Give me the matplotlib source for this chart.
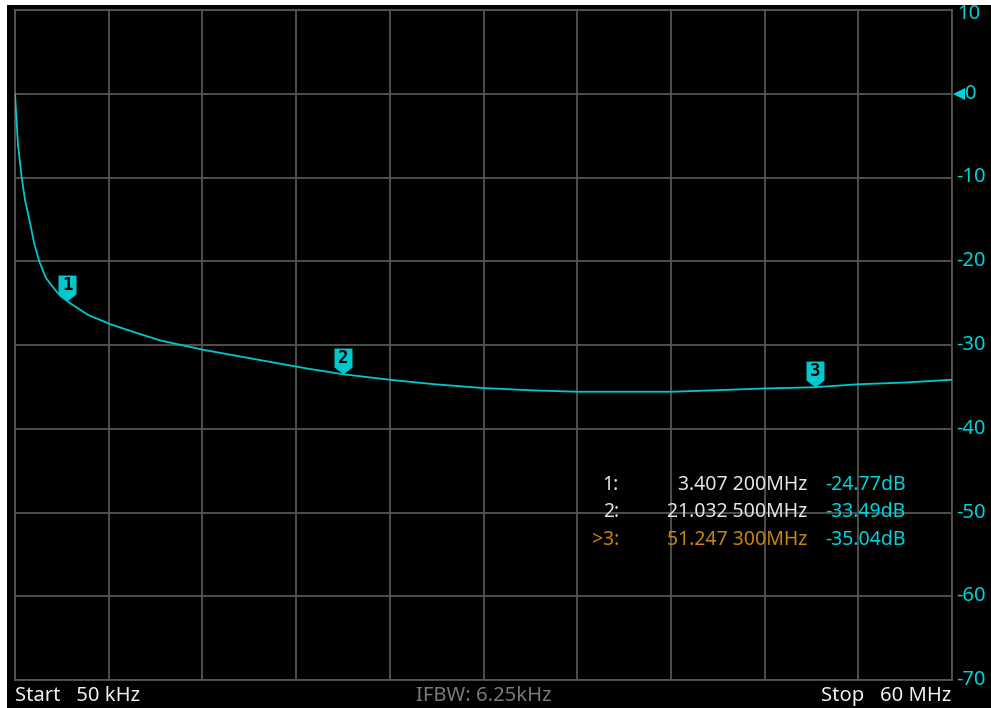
import numpy as np
import matplotlib.pyplot as plt
from matplotlib.path import Path
from matplotlib.patches import Rectangle

# Trace readings: frequency (MHz) and log magnitude (dB)
freq_mhz = [0.05, 0.16, 0.242, 0.48, 0.69, 1.01, 1.27, 1.60, 2.03, 2.61, 2.99,
            3.407, 3.57, 4.72, 6.13, 7.73, 9.33, 12.09, 15.73, 18.71, 21.0325,
            24.04, 26.8, 30.0, 33.2, 36.0, 39.6, 42.15, 45.8, 48.04, 51.2473,
            53.9, 57.1, 60.0]
mag_db = [0.0, -3.5, -6.1, -10.0, -12.7, -15.4, -17.8, -20.0, -22.0, -23.4, -24.2,
          -24.77, -25.0, -26.4, -27.5, -28.5, -29.45, -30.57, -31.8, -32.8, -33.49,
          -34.15, -34.67, -35.14, -35.42, -35.58, -35.58, -35.58, -35.34, -35.19,
          -35.04, -34.7, -34.47, -34.15]

# Markers
marker_ids = ['1', '2', '3']
marker_freq = [3.4072, 21.0325, 51.2473]
marker_db = [-24.77, -33.49, -35.04]
marker_freq_text = ['3.407 200MHz', '21.032 500MHz', '51.247 300MHz']
marker_db_text = ['-24.77dB', '-33.49dB', '-35.04dB']
active_marker = 2

y_ticks = [10, 0, -10, -20, -30, -40, -50, -60, -70]
f_start, f_stop = 0.05, 60.0

CYAN = '#00c8cc'
CYAN_TXT = '#00d4d8'
GRID = '#555555'
ORANGE = '#c8860c'
FONT = 'Noto Sans'

W, H = 991, 708
fig = plt.figure(figsize=(W / 100, H / 100), dpi=100, facecolor='white')
fig.patches.append(Rectangle((7 / W, 0), 1, 1 - 5 / H, transform=fig.transFigure,
                             facecolor='black', edgecolor='none', zorder=-10))

ax = fig.add_axes([15 / W, 28 / H, 937 / W, 670 / H])
ax.set_facecolor('black')
ax.set_xlim(f_start, f_stop)
ax.set_ylim(-70, 10)

ax.set_xticks(np.linspace(f_start, f_stop, 11))
ax.set_yticks(y_ticks)
ax.tick_params(length=0, labelbottom=False, labelleft=False)
ax.grid(True, color=GRID, linewidth=1.3)
for s in ax.spines.values():
    s.set_color(GRID)
    s.set_linewidth(1.3)

ax.plot(freq_mhz, mag_db, color=CYAN, linewidth=1.3, zorder=3)

# Marker flags: pentagon with the tip on the trace point
flag = Path([(0, 0), (9, 7), (9, 26), (-9, 26), (-9, 7), (0, 0)],
            [Path.MOVETO] + [Path.LINETO] * 4 + [Path.CLOSEPOLY])
for mid, mf, md in zip(marker_ids, marker_freq, marker_db):
    ax.plot(mf, md, marker=flag, markersize=37.4, color=CYAN, markeredgewidth=0,
            zorder=5)
    ax.annotate(mid, (mf, md), xytext=(0, 11.8), textcoords='offset points',
                ha='center', va='center', fontsize=12.5, fontweight='bold',
                family='DejaVu Sans Mono', color='black', zorder=6)

# Right-hand scale labels
ytr = ax.get_yaxis_transform()
for v in y_ticks:
    xoff = 1.014 if v == 0 else 1.005
    yy = v - 0.5 if v == 10 else v
    ax.text(xoff, yy, str(v), transform=ytr, ha='left', va='center',
            fontsize=14.5, family=FONT, color=CYAN_TXT, clip_on=False)
ax.plot([1.0075], [0], marker='<', markersize=8.5, color=CYAN_TXT,
        transform=ytr, clip_on=False, markeredgewidth=0)

# Marker readout table
rows_y = [485, 512, 540]
for i, ry in enumerate(rows_y):
    fy = 1 - ry / H
    label = ('>' if i == active_marker else '') + marker_ids[i] + ':'
    col = ORANGE if i == active_marker else '#e6e6e6'
    fig.text(619 / W, fy, label, ha='right', va='center', fontsize=14,
             family=FONT, color=col)
    fig.text(807 / W, fy, marker_freq_text[i], ha='right', va='center',
             fontsize=14, family=FONT, color=col)
    fig.text(825 / W, fy, marker_db_text[i], ha='left', va='center',
             fontsize=14, family=FONT, color=CYAN_TXT)

# Status line
by = 1 - 696 / H
fig.text(15 / W, by, 'Start   50 kHz', ha='left', va='center', fontsize=14.5,
         family=FONT, color='#f0f0f0')
fig.text(484 / W, by, 'IFBW: 6.25kHz', ha='center', va='center', fontsize=14.5,
         family=FONT, color='#7a7a7a')
fig.text(951 / W, by, 'Stop   60 MHz', ha='right', va='center', fontsize=14.5,
         family=FONT, color='#f0f0f0')

fig.savefig('out.png', dpi=100, facecolor='white')
